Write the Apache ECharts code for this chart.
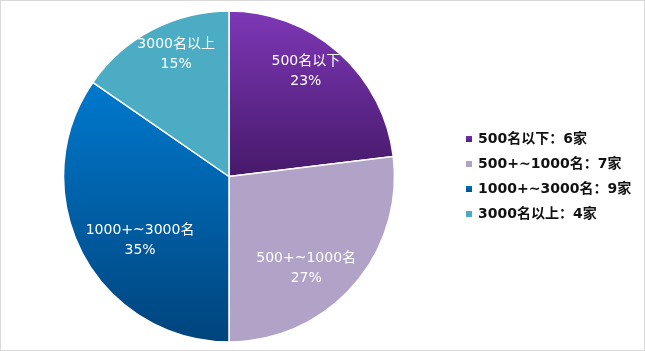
<!DOCTYPE html>
<html>
<head>
<meta charset="utf-8">
<script src="https://cdn.jsdelivr.net/npm/echarts@6/dist/echarts.min.js"></script>
<style>
    html, body { margin: 0; padding: 0; background: #fff; }
    #chart { width: 643px; height: 349px; border: 1px solid #d9d9d9; }
</style>
</head>
<body>
<div id="chart"></div>
<script>
// 各规模企业数量
const names = ['500名以下', '500+~1000名', '1000+~3000名', '3000名以上'];
const counts = [6, 7, 9, 4];

// 扇区内标签的微调偏移
const labelShift = [[20, -41], [13, 35], [-13, 24], [-13, -46]];

const font = '"DejaVu Sans", "Noto Sans CJK SC", sans-serif';
const myChart = echarts.init(document.getElementById('chart'));

const colors = [
    new echarts.graphic.LinearGradient(0, 0, 0, 1, [
        { offset: 0, color: '#7E38B6' },
        { offset: 1, color: '#46196A' }
    ]),
    '#B1A2C8',
    new echarts.graphic.LinearGradient(0, 0, 0, 1, [
        { offset: 0, color: '#0079CE' },
        { offset: 1, color: '#00447C' }
    ]),
    '#4BACC4'
];

const option = {
    animation: false,
    legend: {
        orient: 'vertical',
        left: 458,
        top: 125,
        itemWidth: 8,
        itemHeight: 8,
        itemGap: 9,
        icon: 'rect',
        data: names,
        formatter: function (name) {
            return name + '：' + counts[names.indexOf(name)] + '家';
        },
        textStyle: {
            fontFamily: font,
            fontSize: 14,
            fontWeight: 'bold',
            color: '#111',
            lineHeight: 16
        }
    },
    series: [
        {
            type: 'pie',
            center: [228, 175.5],
            radius: 165.5,
            startAngle: 90,
            clockwise: true,
            percentPrecision: 0,
            itemStyle: {
                borderColor: '#fff',
                borderWidth: 1.5
            },
            label: {
                show: true,
                position: 'inside',
                formatter: '{b}\n{d}%',
                color: '#fff',
                fontFamily: font,
                fontSize: 14,
                lineHeight: 20
            },
            labelLine: { show: false },
            labelLayout: function (params) {
                const s = labelShift[params.dataIndex];
                return { dx: s[0], dy: s[1] };
            },
            data: names.map((n, i) => ({
                name: n,
                value: counts[i],
                itemStyle: { color: colors[i] }
            }))
        }
    ]
};
myChart.setOption(option);
</script>
</body>
</html>
